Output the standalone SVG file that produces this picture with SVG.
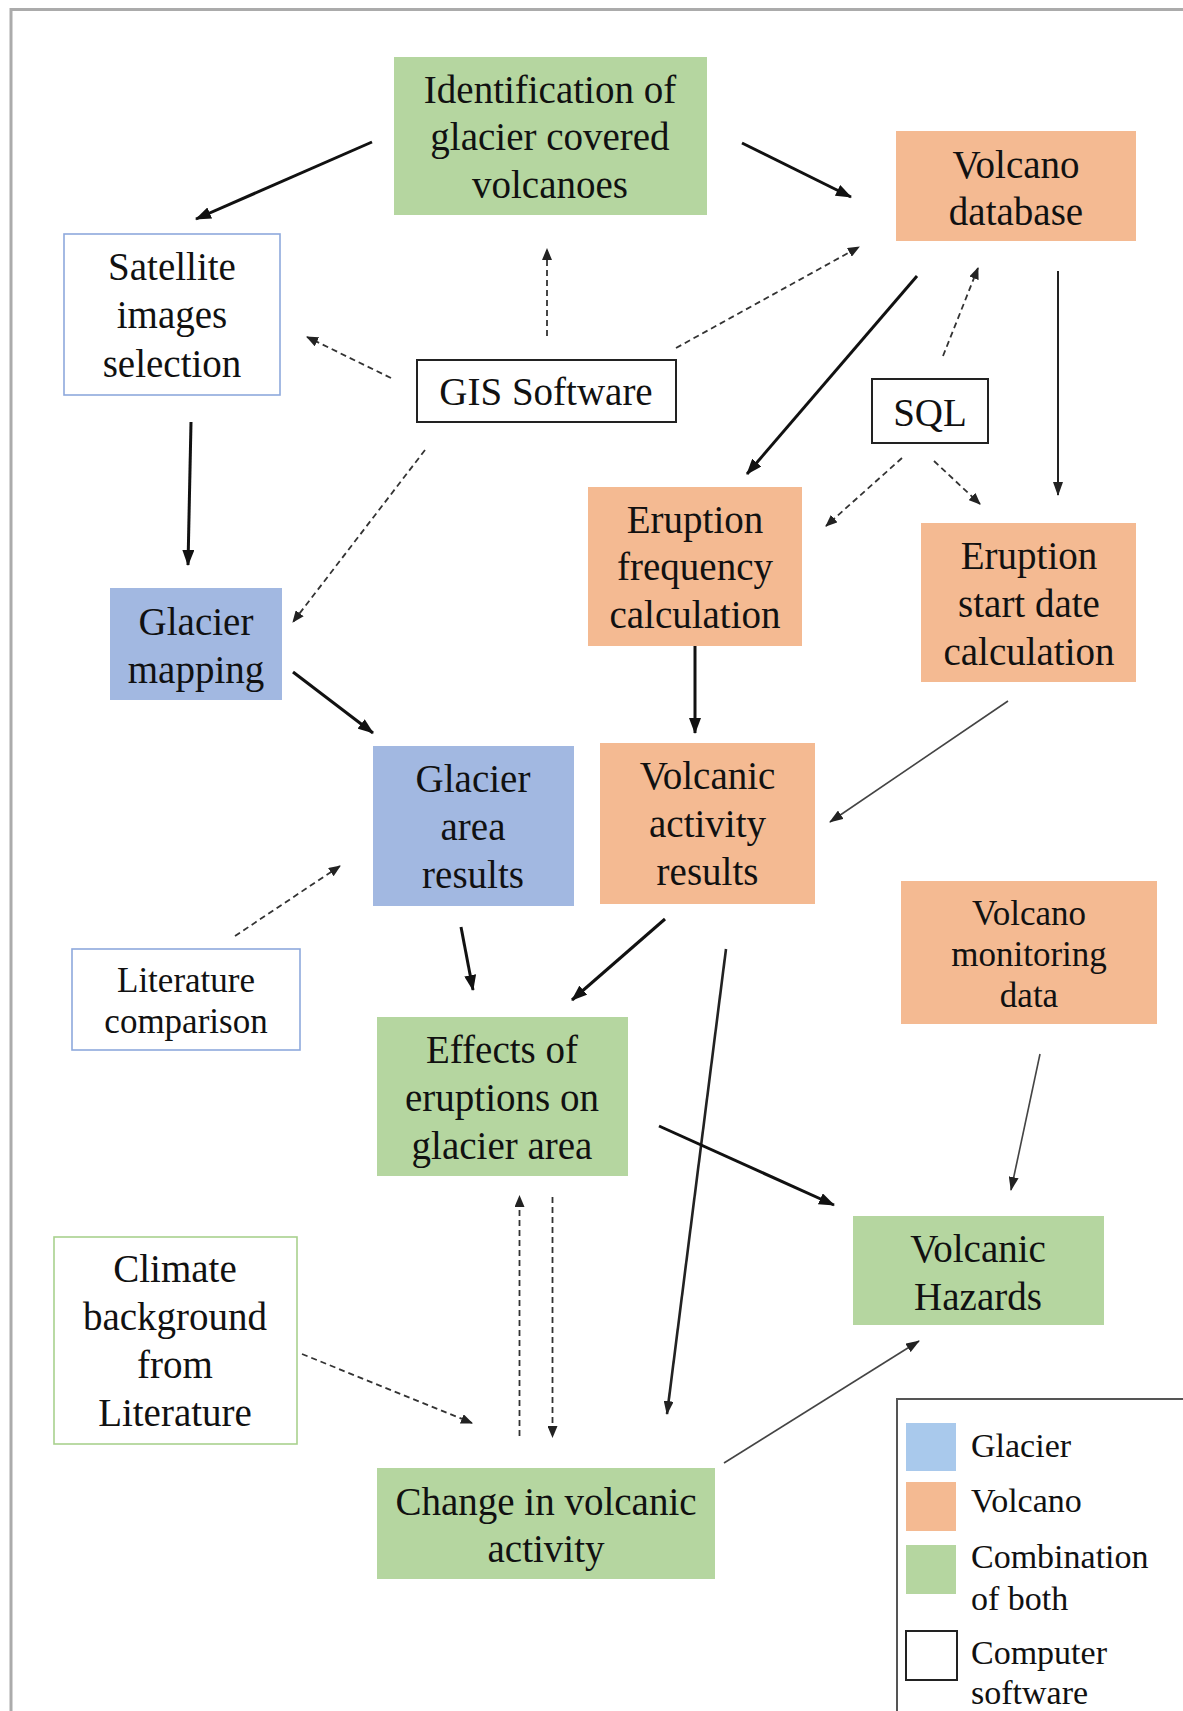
<svg xmlns="http://www.w3.org/2000/svg" width="1183" height="1711" viewBox="0 0 1183 1711">
<defs>
<style>
text{font-family:"Liberation Serif","Times New Roman",serif;fill:#111;text-anchor:middle}
.t39{font-size:39px}
.t35{font-size:35px}
.leg{font-size:34px;text-anchor:start}
.green{fill:#b5d6a0}
.orange{fill:#f4ba92}
.blue{fill:#a2b8e1}
.sw{fill:#fff;stroke:#222;stroke-width:2}
.solid{stroke:#111;stroke-width:3;fill:none}
.med{stroke:#222;stroke-width:2;fill:none}
.thin{stroke:#444;stroke-width:1.6;fill:none}
.dash{stroke:#333;stroke-width:1.8;fill:none;stroke-dasharray:6 4}
</style>
<marker id="ah" markerUnits="userSpaceOnUse" markerWidth="16" markerHeight="12" refX="15" refY="6" orient="auto"><path d="M0,0 L16,6 L0,12 z" fill="#111"/></marker>
<marker id="am" markerUnits="userSpaceOnUse" markerWidth="14" markerHeight="10" refX="13" refY="5" orient="auto"><path d="M0,0 L14,5 L0,10 z" fill="#222"/></marker>
<marker id="ad" markerUnits="userSpaceOnUse" markerWidth="12" markerHeight="10" refX="11" refY="5" orient="auto"><path d="M0,0 L12,5 L0,10 z" fill="#222"/></marker>
</defs>
<rect width="1183" height="1711" fill="#fff"/>
<path d="M11,1711 V9.5 H1183" fill="none" stroke="#ababab" stroke-width="3"/>

<g id="connectors">
<line class="solid" x1="372" y1="142" x2="196" y2="219" marker-end="url(#ah)"/>
<line class="solid" x1="742" y1="143" x2="851" y2="197" marker-end="url(#ah)"/>
<line class="dash" x1="547" y1="336" x2="547" y2="249" marker-end="url(#ad)"/>
<line class="dash" x1="391" y1="378" x2="307" y2="337" marker-end="url(#ad)"/>
<line class="dash" x1="676" y1="348" x2="859" y2="247" marker-end="url(#ad)"/>
<line class="dash" x1="425" y1="450" x2="293" y2="622" marker-end="url(#ad)"/>
<line class="solid" x1="191" y1="422" x2="188" y2="565" marker-end="url(#ah)"/>
<line class="solid" x1="917" y1="276" x2="747" y2="474" marker-end="url(#ah)"/>
<line class="dash" x1="943" y1="356" x2="978" y2="268" marker-end="url(#ad)"/>
<line class="med" x1="1058" y1="271" x2="1058" y2="495" marker-end="url(#am)"/>
<line class="dash" x1="902" y1="458" x2="826" y2="526" marker-end="url(#ad)"/>
<line class="dash" x1="934" y1="461" x2="980" y2="504" marker-end="url(#ad)"/>
<line class="solid" x1="293" y1="672" x2="373" y2="733" marker-end="url(#ah)"/>
<line class="solid" x1="695" y1="646" x2="695" y2="733" marker-end="url(#ah)"/>
<line class="thin" x1="1008" y1="701" x2="830" y2="822" marker-end="url(#am)"/>
<line class="dash" x1="235" y1="936" x2="340" y2="866" marker-end="url(#ad)"/>
<line class="solid" x1="461" y1="927" x2="473" y2="990" marker-end="url(#ah)"/>
<line class="solid" x1="665" y1="919" x2="572" y2="1000" marker-end="url(#ah)"/>
<line class="med" x1="726" y1="949" x2="667" y2="1414" marker-end="url(#am)" style="stroke-width:2.6"/>
<line class="solid" x1="659" y1="1126" x2="834" y2="1205" marker-end="url(#ah)"/>
<line class="thin" x1="1040" y1="1054" x2="1011" y2="1190" marker-end="url(#am)"/>
<line class="dash" x1="302" y1="1354" x2="472" y2="1423" marker-end="url(#ad)"/>
<line class="dash" x1="519.5" y1="1436" x2="519.5" y2="1196" marker-end="url(#ad)"/>
<line class="dash" x1="552.5" y1="1197" x2="552.5" y2="1437" marker-end="url(#ad)"/>
<line class="thin" x1="724" y1="1463" x2="919" y2="1341" marker-end="url(#am)"/>
</g>

<g id="node-identification">
<rect class="green" x="394" y="57" width="313" height="158"/>
<text class="t39" x="550" y="103">Identification of</text>
<text class="t39" x="550" y="150">glacier covered</text>
<text class="t39" x="550" y="197.5">volcanoes</text>
</g>
<g id="node-volcano-database">
<rect class="orange" x="896" y="131" width="240" height="110"/>
<text class="t39" x="1016" y="177.5">Volcano</text>
<text class="t39" x="1016" y="225">database</text>
</g>
<g id="node-satellite">
<rect x="64" y="234" width="216" height="161" fill="#fff" stroke="#8ea9dc" stroke-width="1.6"/>
<text class="t39" x="172" y="280">Satellite</text>
<text class="t39" x="172" y="328">images</text>
<text class="t39" x="172" y="377">selection</text>
</g>
<g id="node-gis">
<rect class="sw" x="417" y="360" width="259" height="62"/>
<text class="t39" x="546" y="405">GIS Software</text>
</g>
<g id="node-sql">
<rect class="sw" x="872" y="379" width="116" height="64"/>
<text class="t39" x="930" y="426">SQL</text>
</g>
<g id="node-glacier-mapping">
<rect class="blue" x="110" y="588" width="172" height="112"/>
<text class="t39" x="196" y="635">Glacier</text>
<text class="t39" x="196" y="682.5">mapping</text>
</g>
<g id="node-eruption-frequency">
<rect class="orange" x="588" y="487" width="214" height="159"/>
<text class="t39" x="695" y="533">Eruption</text>
<text class="t39" x="695" y="580">frequency</text>
<text class="t39" x="695" y="628">calculation</text>
</g>
<g id="node-eruption-start">
<rect class="orange" x="921" y="523" width="215" height="159"/>
<text class="t39" x="1029" y="569">Eruption</text>
<text class="t39" x="1029" y="617">start date</text>
<text class="t39" x="1029" y="665">calculation</text>
</g>
<g id="node-glacier-area">
<rect class="blue" x="373" y="746" width="201" height="160"/>
<text class="t39" x="473" y="792">Glacier</text>
<text class="t39" x="473" y="840">area</text>
<text class="t39" x="473" y="888">results</text>
</g>
<g id="node-volcanic-activity">
<rect class="orange" x="600" y="743" width="215" height="161"/>
<text class="t39" x="707.5" y="789">Volcanic</text>
<text class="t39" x="707.5" y="837">activity</text>
<text class="t39" x="707.5" y="885">results</text>
</g>
<g id="node-volcano-monitoring">
<rect class="orange" x="901" y="881" width="256" height="143"/>
<text class="t35" x="1029" y="925">Volcano</text>
<text class="t35" x="1029" y="966">monitoring</text>
<text class="t35" x="1029" y="1007">data</text>
</g>
<g id="node-literature">
<rect x="72" y="949" width="228" height="101" fill="#fff" stroke="#8ea9dc" stroke-width="1.6"/>
<text class="t35" x="186" y="992">Literature</text>
<text class="t35" x="186" y="1033">comparison</text>
</g>
<g id="node-effects">
<rect class="green" x="377" y="1017" width="251" height="159"/>
<text class="t39" x="502" y="1063">Effects of</text>
<text class="t39" x="502" y="1111">eruptions on</text>
<text class="t39" x="502" y="1159">glacier area</text>
</g>
<g id="node-hazards">
<rect class="green" x="853" y="1216" width="251" height="109"/>
<text class="t39" x="978" y="1262">Volcanic</text>
<text class="t39" x="978" y="1310">Hazards</text>
</g>
<g id="node-climate">
<rect x="54" y="1237" width="243" height="207" fill="#fff" stroke="#a9d18e" stroke-width="1.6"/>
<text class="t39" x="175" y="1282">Climate</text>
<text class="t39" x="175" y="1330">background</text>
<text class="t39" x="175" y="1378">from</text>
<text class="t39" x="175" y="1426">Literature</text>
</g>
<g id="node-change">
<rect class="green" x="377" y="1468" width="338" height="111"/>
<text class="t39" x="546" y="1514.5">Change in volcanic</text>
<text class="t39" x="546" y="1562">activity</text>
</g>

<g id="legend">
<rect x="897" y="1399" width="400" height="400" fill="#fff" stroke="#555" stroke-width="2"/>
<rect x="906" y="1423" width="50" height="48" fill="#a9c9ec"/>
<rect x="906" y="1482" width="50" height="49" fill="#f4ba92"/>
<rect x="906" y="1545" width="50" height="49" fill="#b5d6a0"/>
<rect x="906" y="1631" width="51" height="49" fill="#fff" stroke="#222" stroke-width="2"/>
<text class="leg" x="971" y="1457">Glacier</text>
<text class="leg" x="971" y="1512">Volcano</text>
<text class="leg" x="971" y="1568">Combination</text>
<text class="leg" x="971" y="1610">of both</text>
<text class="leg" x="971" y="1664">Computer</text>
<text class="leg" x="971" y="1704">software</text>
</g>
</svg>
